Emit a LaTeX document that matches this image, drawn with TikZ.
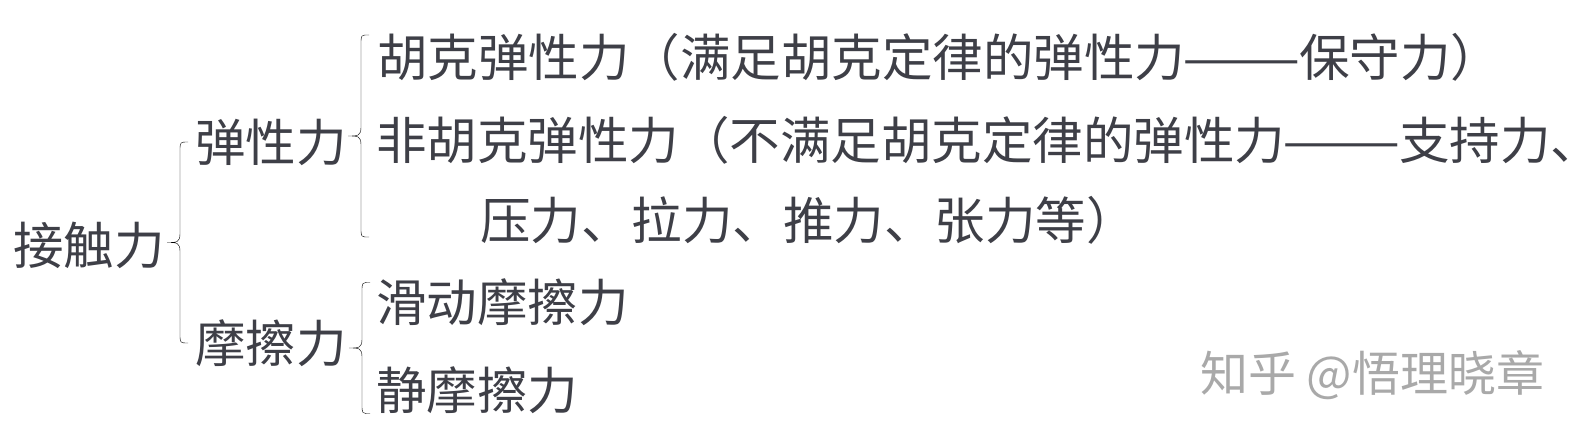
\documentclass[tikz,border=0pt]{standalone}
\usepackage{fontspec}
\newfontfamily\cjk{Noto Sans CJK SC}
\usetikzlibrary{calc}
\definecolor{ink}{HTML}{3E3F47}
\definecolor{bracegray}{HTML}{62636B}
\definecolor{wmgray}{HTML}{A9A9A9}
\newcommand\longdash{\makebox[114pt][c]{\scalebox{1.4}[1]{——}}}
\newcommand\tailcomma{\makebox[0.42em][l]{、}}
\tikzset{
  lbl/.style={anchor=west, inner sep=0pt, outer sep=0pt, text=ink,
    font=\cjk\fontsize{50.5pt}{50.5pt}\selectfont},
  wm/.style={anchor=west, inner sep=0pt, outer sep=0pt, text=wmgray,
    font=\cjk\fontsize{48pt}{48pt}\selectfont},
  cbrace/.style={draw=bracegray, line width=1.7pt, line cap=round, line join=round,
    to path={
      let \p1=(\tikztostart), \p2=(\tikztotarget),
          \p3=($(\tikztostart)!0.5!(\tikztotarget)$) in
      (\x1,\y1) .. controls (\x1-8pt,\y1) .. (\x1-8pt,\y1-9pt)
      -- (\x1-8pt,\y3+9pt) .. controls (\x1-8pt,\y3) and (\x1-11pt,\y3) .. (\x1-21pt,\y3)
      .. controls (\x1-11pt,\y3) and (\x1-8pt,\y3) .. (\x1-8pt,\y3-9pt)
      -- (\x1-8pt,\y2+9pt) .. controls (\x1-8pt,\y2) .. (\x1,\y2)
    }}
}
\begin{document}
\begin{tikzpicture}[x=1pt,y=-1pt]
\useasboundingbox (0,0) rectangle (1584,439);
\fill[white] (0,0) rectangle (1584,439);
% nodes
\node[lbl] (n0) at (13,245) {接触力};
\node[lbl] (n1) at (195,142) {弹性力};
\node[lbl] (n2) at (195,343) {摩擦力};
\node[lbl] (l1) at (377,57) {胡克弹性力（满足胡克定律的弹性力\longdash 保守力）};
\node[lbl] (l2) at (376,140) {非胡克弹性力（不满足胡克定律的弹性力\longdash 支持力\tailcomma};
\node[lbl] (l3) at (480,220) {压力、拉力、推力、张力等）};
\node[lbl] (l4) at (376,302) {滑动摩擦力};
\node[lbl] (l5) at (376,390) {静摩擦力};
\node[wm] (wm) at (1200,375) {知乎 @悟理晓章};
% braces
\draw ([xshift=-7pt]n1.west) to[cbrace] ([xshift=-7pt]n2.west);
\coordinate (b2t) at ([xshift=-8pt,yshift=-2pt]l1.north west);
\coordinate (b2b) at ([yshift=7pt]b2t |- l3.south);
\draw (b2t) to[cbrace] (b2b);
\coordinate (b3t) at ([xshift=-6pt,yshift=-4pt]l4.north west);
\coordinate (b3b) at (b3t |- l5.south);
\draw (b3t) to[cbrace] (b3b);
\end{tikzpicture}
\end{document}
